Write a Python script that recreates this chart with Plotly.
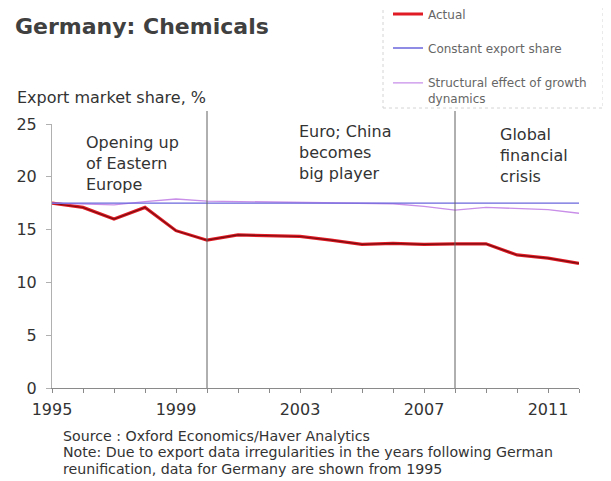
import plotly.graph_objects as go

years = list(range(1995, 2013))
actual = [17.5, 17.1, 16.0, 17.1, 14.9, 14.0, 14.5, 14.4, 14.35, 14.0, 13.6, 13.7, 13.6, 13.65, 13.65, 12.6, 12.3, 11.8]
constant_share = [17.5, 17.5, 17.5, 17.5, 17.5, 17.5, 17.5, 17.5, 17.5, 17.5, 17.5, 17.5, 17.5, 17.5, 17.5, 17.5, 17.5, 17.5]
structural = [17.5, 17.4, 17.35, 17.65, 17.9, 17.7, 17.65, 17.65, 17.6, 17.55, 17.5, 17.45, 17.2, 16.85, 17.1, 17.0, 16.9, 16.55]

series_names = ["Actual", "Constant export share", "Structural effect of growth<br>dynamics"]
event_years = [2000, 2008]
event_labels = ["Opening up<br>of Eastern<br>Europe", "Euro; China<br>becomes<br>big player", "Global<br>financial<br>crisis"]
event_label_x = [1996.04, 2002.89, 2009.39]
event_label_y = [0.975, 1.014, 1.005]
y_ticks = [0, 5, 10, 15, 20, 25]
source_lines = [
    "Source : Oxford Economics/Haver Analytics",
    "Note: Due to export data irregularities in the years following German",
    "reunification, data for Germany are shown from 1995",
]

FONT = "DejaVu Sans"
OFF = 8  # page body margin
W, H = 611 - OFF, 481 - OFF
L, R, T, B = 52 - OFF, 611 - 579, 124 - OFF, 481 - 388
PW, PH = W - L - R, H - T - B

def px_x(sx):
    return (sx - OFF - L) / PW

def px_y(sy):
    return (H - B - (sy - OFF)) / PH

fig = go.Figure()
fig.add_trace(go.Scatter(x=years, y=actual, mode="lines", name=series_names[0],
                         line=dict(color="#e01b24", width=3.2), legend="legend"))
fig.add_trace(go.Scatter(x=years, y=actual, mode="lines", showlegend=False, hoverinfo="skip",
                         line=dict(color="#7a0c10", width=1.1)))
fig.add_trace(go.Scatter(x=years, y=structural, mode="lines", name=series_names[2],
                         line=dict(color="#c88ee8", width=1.3), legend="legend3"))
fig.add_trace(go.Scatter(x=years, y=constant_share, mode="lines", name=series_names[1],
                         line=dict(color="#6a66dc", width=1.3), legend="legend2"))

for ey in event_years:
    fig.add_shape(type="line", xref="x", yref="paper", x0=ey, x1=ey, y0=0, y1=px_y(111),
                  line=dict(color="#606060", width=1))

for txt, ex, eyp in zip(event_labels, event_label_x, event_label_y):
    fig.add_annotation(x=ex, y=eyp, xref="x", yref="paper", text=txt, showarrow=False,
                       xanchor="left", yanchor="top", align="left",
                       font=dict(family=FONT, size=16, color="#333333"))

# legend frame
fig.add_shape(type="rect", xref="paper", yref="paper", x0=px_x(383), x1=px_x(603),
              y0=px_y(108), y1=px_y(3), line=dict(color="#d4d4d4", width=1, dash="dot"))

# y axis title
fig.add_annotation(x=px_x(15), y=px_y(97.7), xref="paper", yref="paper",
                   text="Export market share, %", showarrow=False, xanchor="left",
                   yanchor="middle", font=dict(family=FONT, size=16, color="#333333"))

for i, line in enumerate(source_lines):
    fig.add_annotation(x=px_x(61), y=px_y(436 + 16.4 * i), xref="paper", yref="paper",
                       text=line, showarrow=False, xanchor="left", yanchor="middle",
                       font=dict(family=FONT, size=14.2, color="#333333"))

leg_common = dict(xanchor="left", yanchor="middle", bgcolor="rgba(0,0,0,0)",
                  font=dict(family=FONT, size=12, color="#666666"), borderwidth=0)

fig.update_layout(
    width=W, height=H,
    margin=dict(l=L, r=R, t=T, b=B, autoexpand=False),
    paper_bgcolor="white", plot_bgcolor="white",
    title=dict(text="<b>Germany: Chemicals</b>", x=(15 - OFF) / W, xanchor="left",
               y=1 - (26.5 - OFF) / H, yanchor="middle", xref="container", yref="container",
               font=dict(family=FONT, size=22, color="#404040")),
    legend=dict(x=px_x(388), y=px_y(14), **leg_common),
    legend2=dict(x=px_x(388), y=px_y(48), **leg_common),
    legend3=dict(x=px_x(388), y=px_y(91), valign="top", **leg_common),
    xaxis=dict(range=[1995, 2012], showgrid=False, zeroline=False, showline=True,
               linecolor="#8a8a8a", linewidth=1, ticks="outside", ticklen=4,
               tickcolor="#8a8a8a", tick0=1995, dtick=4, ticklabelstandoff=3,
               minor=dict(dtick=1, ticks="outside", ticklen=4, tickcolor="#8a8a8a"),
               tickfont=dict(family=FONT, size=16, color="#333333")),
    yaxis=dict(range=[0, 25], showgrid=False, zeroline=False, showline=True,
               linecolor="#b0b0b0", linewidth=1, ticks="outside", ticklen=5,
               tickcolor="#b0b0b0", tickvals=y_ticks, ticklabelstandoff=6,
               tickfont=dict(family=FONT, size=16, color="#333333")),
)

fig.write_html("out.html")
